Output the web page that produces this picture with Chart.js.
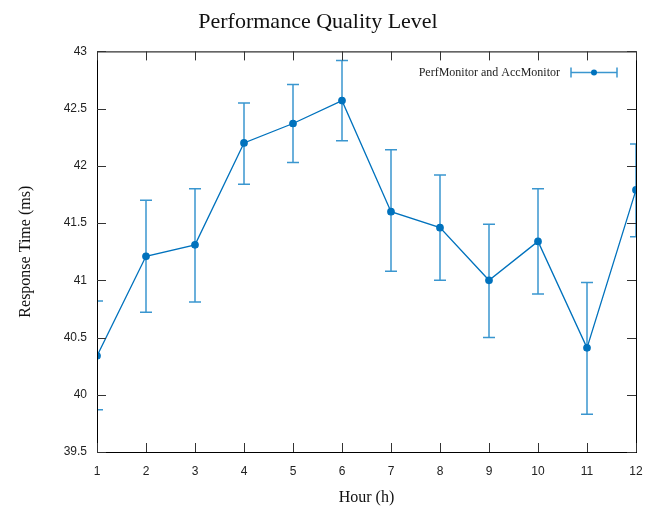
<!DOCTYPE html>
<html>
<head>
<meta charset="utf-8">
<script src="https://cdn.jsdelivr.net/npm/chart.js@4"></script>
<style>
  html, body { margin: 0; padding: 0; background: #fff; }
  #wrap { width: 657px; height: 511px; }
</style>
</head>
<body>
<div id="wrap"><canvas id="chart" width="657" height="511"></canvas></div>
<script>
const hours = [1, 2, 3, 4, 5, 6, 7, 8, 9, 10, 11, 12];
const responseTime = [40.34, 41.21, 41.31, 42.20, 42.37, 42.57, 41.60, 41.46, 41.00, 41.34, 40.41, 41.79];
const errLow = [39.87, 40.72, 40.81, 41.84, 42.03, 42.22, 41.08, 41.00, 40.50, 40.88, 39.83, 41.38];
const errHigh = [40.82, 41.70, 41.80, 42.55, 42.71, 42.92, 42.14, 41.92, 41.49, 41.80, 40.98, 42.19];
const yTicks = [39.5, 40, 40.5, 41, 41.5, 42, 42.5, 43];

const lineColor = '#0072bd';
const barColor = '#3a96cf';
const serif = '"Liberation Serif", "Times New Roman", serif';
const sans = '"Liberation Sans", Arial, sans-serif';

// error bars, frame, inward ticks, legend
const gnuplotLook = {
    id: 'gnuplotLook',
    beforeDatasetsDraw(chart) {
        const ctx = chart.ctx;
        const a = chart.chartArea;
        const x = chart.scales.x, y = chart.scales.y;
        ctx.save();
        ctx.beginPath();
        ctx.rect(a.left, a.top, a.right - a.left, a.bottom - a.top);
        ctx.clip();
        ctx.strokeStyle = barColor;
        ctx.lineWidth = 1.5;
        hours.forEach((h, i) => {
            const px = x.getPixelForValue(h);
            const lo = y.getPixelForValue(errLow[i]);
            const hi = y.getPixelForValue(errHigh[i]);
            ctx.beginPath();
            ctx.moveTo(px, lo); ctx.lineTo(px, hi);
            ctx.moveTo(px - 6, lo); ctx.lineTo(px + 6, lo);
            ctx.moveTo(px - 6, hi); ctx.lineTo(px + 6, hi);
            ctx.stroke();
        });
        ctx.restore();
    },
    afterDraw(chart) {
        const ctx = chart.ctx;
        const a = chart.chartArea;
        const x = chart.scales.x, y = chart.scales.y;
        ctx.save();
        ctx.strokeStyle = '#000';
        ctx.lineWidth = 1;
        ctx.strokeRect(a.left + 0.5, a.top + 0.5, a.right - a.left, a.bottom - a.top);
        ctx.strokeStyle = '#333';
        ctx.beginPath();
        hours.forEach(h => {
            const px = Math.round(x.getPixelForValue(h)) + 0.5;
            ctx.moveTo(px, a.bottom); ctx.lineTo(px, a.bottom - 9);
            ctx.moveTo(px, a.top); ctx.lineTo(px, a.top + 9);
        });
        yTicks.forEach(v => {
            const py = Math.round(y.getPixelForValue(v)) + 0.5;
            ctx.moveTo(a.left, py); ctx.lineTo(a.left + 9, py);
            ctx.moveTo(a.right, py); ctx.lineTo(a.right - 9, py);
        });
        ctx.stroke();

        // legend
        const ly = a.top + 21;
        ctx.font = '12px ' + serif;
        ctx.fillStyle = '#222';
        ctx.textAlign = 'right';
        ctx.textBaseline = 'middle';
        ctx.fillText(chart.data.datasets[0].label, 560, ly);
        ctx.strokeStyle = barColor;
        ctx.lineWidth = 1.5;
        ctx.beginPath();
        ctx.moveTo(571, ly); ctx.lineTo(617, ly);
        ctx.moveTo(571, ly - 5); ctx.lineTo(571, ly + 5);
        ctx.moveTo(617, ly - 5); ctx.lineTo(617, ly + 5);
        ctx.stroke();
        ctx.fillStyle = lineColor;
        ctx.beginPath();
        ctx.arc(594, ly, 3, 0, Math.PI * 2);
        ctx.fill();
        ctx.restore();
    }
};

new Chart(document.getElementById('chart'), {
    type: 'line',
    data: {
        labels: hours,
        datasets: [{
            label: 'PerfMonitor and AccMonitor',
            data: hours.map((h, i) => ({ x: h, y: responseTime[i] })),
            borderColor: lineColor,
            backgroundColor: lineColor,
            borderWidth: 1.3,
            pointRadius: 3.2,
            pointHoverRadius: 3.2,
            tension: 0,
            fill: false
        }]
    },
    options: {
        responsive: false,
        animation: false,
        layout: { padding: { top: 5, right: 21, left: 0, bottom: 0 } },
        plugins: {
            legend: { display: false },
            tooltip: { enabled: false },
            title: {
                display: true,
                text: 'Performance Quality Level',
                color: '#111',
                font: { family: serif, size: 22, weight: 'normal' },
                padding: { top: 4, bottom: 16 }
            }
        },
        scales: {
            x: {
                type: 'linear',
                min: 1,
                max: 12,
                grid: { display: false, drawTicks: false },
                border: { display: false },
                ticks: {
                    stepSize: 1,
                    color: '#222',
                    font: { family: sans, size: 12 },
                    padding: 12
                },
                title: {
                    display: true,
                    text: 'Hour (h)',
                    color: '#111',
                    font: { family: serif, size: 16 },
                    padding: { top: 8, bottom: 4 }
                },
                afterFit(scale) { scale.height = 59; }
            },
            y: {
                min: 39.5,
                max: 43,
                grid: { display: false, drawTicks: false },
                border: { display: false },
                afterBuildTicks(scale) { scale.ticks = yTicks.map(v => ({ value: v })); },
                ticks: {
                    color: '#222',
                    font: { family: sans, size: 12 },
                    padding: 10,
                    callback: v => String(v)
                },
                title: {
                    display: true,
                    text: 'Response Time (ms)',
                    color: '#111',
                    font: { family: serif, size: 16 },
                    padding: { top: 16, bottom: 0 }
                },
                afterFit(scale) { scale.width = 97; }
            }
        }
    },
    plugins: [gnuplotLook]
});
</script>
</body>
</html>
